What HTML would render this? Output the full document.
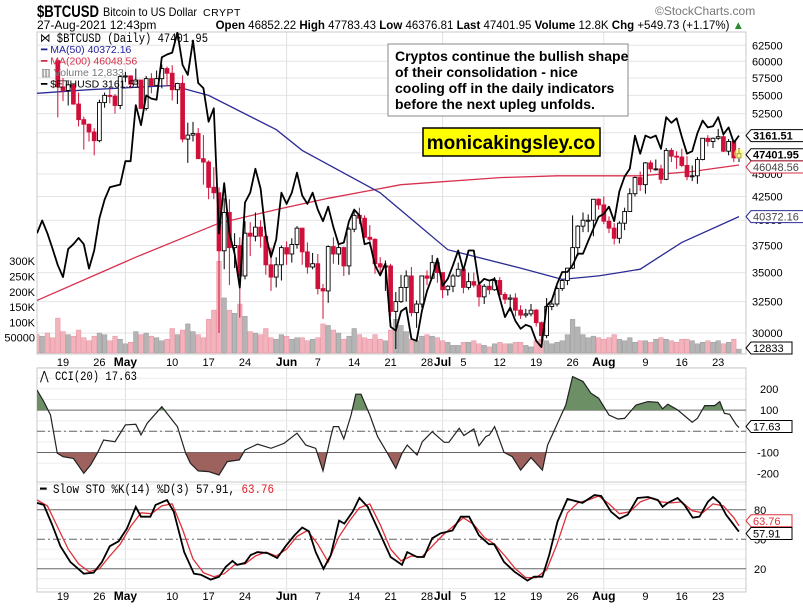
<!DOCTYPE html>
<html><head><meta charset="utf-8"><style>
html,body{margin:0;padding:0;background:#fff;}
svg{display:block;font-family:"Liberation Sans",sans-serif;}
</style></head><body>
<svg id="chart" width="803" height="612" viewBox="0 0 803 612" xmlns="http://www.w3.org/2000/svg">
<defs>
<clipPath id="clipMain"><rect x="37" y="32" width="709" height="322"/></clipPath>
<clipPath id="clipCCIup"><rect x="37" y="368" width="709" height="42.1"/></clipPath>
<clipPath id="clipCCIdn"><rect x="37" y="452.5" width="709" height="30"/></clipPath>
<clipPath id="clipCCI"><rect x="37" y="368" width="709" height="114"/></clipPath>
<clipPath id="clipSTO"><rect x="37" y="482" width="709" height="110"/></clipPath>
</defs>
<g>
<text x="37" y="17" font-size="17" font-weight="bold" textLength="62" lengthAdjust="spacingAndGlyphs">$BTCUSD</text>
<text x="103" y="16" font-size="12" textLength="94" lengthAdjust="spacingAndGlyphs">Bitcoin to US Dollar</text>
<text x="203" y="16" font-size="10.5" letter-spacing="0.5">CRYPT</text>
<text x="655" y="15" font-size="12" fill="#777">©StockCharts.com</text>
<text x="37" y="29" font-size="12">27-Aug-2021 12:43pm</text>
<text x="744" y="29" font-size="11.5" text-anchor="end"><tspan font-weight="bold">Open</tspan> 46852.22 <tspan font-weight="bold">High</tspan> 47783.43 <tspan font-weight="bold">Low</tspan> 46376.81 <tspan font-weight="bold">Last</tspan> 47401.95 <tspan font-weight="bold">Volume</tspan> 12.8K <tspan font-weight="bold">Chg</tspan> +549.73 (+1.17%) <tspan fill="#2a8a2a">▲</tspan></text>
</g>
<g id="grid"></g>
<g id="main" clip-path="url(#clipMain)"></g>
<g id="cci"></g>
<g id="sto"></g>
<g id="axes"></g>
<g font-size="10.5">
<text x="40" y="42" font-family="Liberation Mono,monospace" font-size="12.5" textLength="168" lengthAdjust="spacingAndGlyphs">⋈ $BTCUSD (Daily) 47401.95</text>
<text x="41" y="53" fill="#1f1f9a">━ MA(50) 40372.16</text>
<text x="41" y="64.5" fill="#d0304a">━ MA(200) 46048.56</text>
<text x="41" y="76" fill="#777">▥ Volume 12,833</text>
<text x="41" y="87.5" fill="#000">━ $ETHUSD 3161.51</text>
</g>
<g>
<rect x="388" y="44" width="240" height="72" fill="#fff" stroke="#888" stroke-width="1"/>
<text x="395" y="61" font-size="14" font-weight="bold"><tspan x="395" dy="0">Cryptos continue the bullish shape</tspan><tspan x="395" dy="16">of their consolidation - nice</tspan><tspan x="395" dy="16">cooling off in the daily indicators</tspan><tspan x="395" dy="16">before the next upleg unfolds.</tspan></text>
</g>
<g>
<rect x="423" y="128" width="177" height="28" fill="#ffff00" stroke="#000" stroke-width="1.5"/>
<text x="511" y="149" font-size="19" font-weight="bold" text-anchor="middle">monicakingsley.co</text>
</g>
<text x="40" y="380" font-family="Liberation Mono,monospace" font-size="12.5" textLength="97" lengthAdjust="spacingAndGlyphs">⋀ CCI(20) 17.63</text>
<text x="40" y="493" font-family="Liberation Mono,monospace" font-size="12.5" textLength="234" lengthAdjust="spacingAndGlyphs">━ Slow STO %K(14) %D(3) 57.91, <tspan fill="#e0202a">63.76</tspan></text>
</svg>
<script>
// ---- data (day index 0 = 14-Apr-2021) ----
const closes=[63.1,63.3,61.5,60.1,56.2,55.7,56.5,53.8,51.7,51.1,50.1,49.0,54.0,55.0,54.9,53.6,57.7,
57.8,56.6,57.2,53.2,57.4,56.4,57.4,58.9,58.2,55.8,56.7,49.2,49.7,49.9,46.8,46.4,43.5,42.9,37.0,40.8,37.3,37.5,34.7,38.7,38.4,39.3,38.4,35.7,34.6,35.7,37.3,
36.7,37.6,39.2,36.9,35.5,35.8,33.6,33.4,37.4,36.7,37.3,35.6,39.1,40.5,40.2,38.3,38.1,35.8,35.5,35.6,31.7,32.5,33.7,34.7,31.6,32.3,34.7,34.5,35.9,35.0,
33.5,33.8,34.7,35.3,33.7,34.2,33.9,32.9,33.8,33.5,34.3,33.1,32.7,32.8,31.8,31.4,31.5,31.8,30.8,29.8,32.1,32.3,33.6,34.3,35.4,37.3,39.4,40.0,40.0,42.2,41.6,
39.9,39.2,38.2,39.7,40.9,42.8,44.6,43.8,46.3,45.6,45.6,44.4,47.8,47.1,47.0,46.0,44.7,44.8,46.7,49.3,48.9,49.3,49.5,47.7,48.9,46.9,47.4];
const firstOpen=63.5;
const highs=[64.8,63.8,63.6,62.5,60.4,57.5,57.0,56.7,55.4,52.1,51.2,50.6,54.4,55.4,56.2,55.2,57.9,
58.4,57.9,58.9,57.2,57.8,58.2,58.6,59.5,59.2,59.4,56.8,57.9,51.3,51.4,50.6,49.7,46.6,45.8,43.5,42.3,42.2,38.7,38.3,39.9,39.8,40.8,40.0,38.8,37.3,36.4,37.5,
37.9,38.2,39.4,39.2,37.8,36.8,36.7,34.0,37.5,38.3,37.6,37.4,39.3,41.0,41.3,40.5,39.5,38.2,36.4,36.1,35.8,33.3,34.8,35.2,35.5,32.6,34.7,35.2,36.6,36.0,
35.0,33.9,34.9,35.9,35.3,35.0,35.0,33.9,34.0,34.2,34.6,34.6,33.3,33.1,33.2,32.2,31.9,32.3,31.9,30.9,32.8,32.6,33.9,34.4,35.4,40.5,39.5,40.8,40.6,42.2,42.3,
42.5,40.4,39.7,39.9,41.3,43.4,44.7,45.3,46.4,46.6,46.7,46.1,48.1,48.1,47.7,48.0,47.1,46.0,47.0,49.3,49.7,49.4,50.5,49.8,49.2,49.0,48.1];
const lows=[61.6,62.0,60.0,59.7,52.0,54.2,53.6,53.7,50.8,47.9,48.9,47.2,48.8,53.3,53.9,52.5,53.1,
56.9,56.0,56.6,53.1,52.9,55.3,56.4,56.0,56.3,54.3,53.8,48.8,46.3,48.9,46.8,43.8,42.2,42.2,30.0,35.3,33.9,35.4,31.2,34.4,36.5,37.9,37.3,34.8,33.4,33.7,34.3,
35.7,35.9,37.2,35.7,34.9,35.3,33.1,31.1,32.4,35.8,35.7,34.7,34.8,38.8,39.6,38.2,37.4,34.9,34.9,33.4,31.3,28.8,32.4,32.5,31.3,30.4,32.0,33.9,34.6,34.1,
32.8,33.0,33.3,34.6,33.2,33.5,33.7,32.1,32.3,33.1,33.4,32.8,32.3,31.7,31.3,31.1,31.2,31.3,30.5,29.3,29.6,31.8,32.1,33.4,33.9,35.3,36.5,38.8,38.8,38.4,41.1,
39.6,38.7,37.6,37.7,39.0,40.9,42.5,43.1,42.8,45.2,45.4,43.9,44.3,46.4,45.6,45.8,44.3,44.2,43.9,46.6,48.3,48.1,49.1,47.6,47.2,46.4,46.4];
const candleStart=4;
const eth=[2430,2515,2430,2330,2230,2160,2330,2360,2400,2360,2210,2320,2530,2660,2750,2760,2770,
2950,2950,3430,3250,3520,3490,3480,3900,3930,3950,4170,3820,3720,4080,3640,3590,3280,3400,2430,2780,2430,2300,2100,2640,2710,2890,2740,2420,2280,2390,2710,
2630,2710,2860,2690,2630,2710,2590,2510,2610,2470,2360,2370,2510,2590,2550,2360,2370,2230,2170,2240,1890,1870,1970,1990,1830,1820,1970,2080,2160,2270,
2110,2150,2230,2320,2200,2320,2320,2120,2150,2140,2150,2040,1940,1990,1920,1880,1900,1890,1820,1790,2000,2030,2120,2190,2190,2230,2300,2300,2380,2460,2540,
2560,2610,2510,2720,2830,2890,3160,3010,3160,3140,3160,3050,3320,3270,3310,3150,3010,3030,3180,3290,3230,3240,3320,3170,3230,3100,3160];
const volumes=[60,55,65,50,114,70,60,55,75,50,40,55,65,60,40,55,45,
30,35,70,60,65,55,50,40,45,80,60,75,95,70,60,50,110,140,300,180,140,130,160,120,70,65,60,80,50,45,60,
55,45,50,50,40,45,50,95,90,75,65,45,55,80,60,50,45,60,45,40,75,110,90,70,45,40,55,60,55,50,
40,35,25,25,35,35,40,30,25,20,30,35,30,30,35,35,25,20,40,45,40,30,35,40,60,110,85,60,50,55,50,
45,50,60,45,40,50,35,40,40,35,45,50,45,40,35,45,45,40,30,35,40,35,40,30,35,45,12.8];
const ma50Days=[0,10,26,33,46,51,66,79,93,101,108,112,116,124,135];
const ma50Vals=[55.3,55.8,56.4,55.0,50.4,47.8,42.9,37.1,35.4,34.4,34.7,35.0,35.3,37.8,40.37];
const ma200Days=[0,19,35,46,56,70,89,100,116,126,135];
const ma200Vals=[32.6,36.4,39.7,41.1,42.3,43.8,44.6,44.8,44.8,45.3,46.05];
const cciDays=[0,1.3,2.6,3.9,5,7,9,10.3,11.6,12.8,15,17,19,20,21.2,24,27,28.6,29.5,31,33,35,36.6,38.9,40,42.4,45,47.5,50,51.7,53.6,55,56.5,57,58,59,60.4,61.3,62.3,64,65.5,67.4,69,70.2,71.2,73.1,74.1,76,78.3,79.2,81.2,82.1,84,85,86.3,87,88,89.8,91.4,93,95,97.2,98.2,99.8,101.7,103,105,106.5,108,110,111.7,113,115.2,117.5,119.4,120.3,121.3,123.2,126,127,128.4,130.3,131.3,132.2,133.2,134.5,135];
const cciVals=[195,140,77,-104,-120,-128,-198,-159,-104,-41,-49,30,33,-17,38,116,22,-104,-151,-187,-190,-206,-143,-135,-88,-61,-80,-57,-9,-65,-80,-187,-25,22,22,-36,77,175,175,77,-25,-104,-175,-104,-65,-112,-49,-2,-52,-52,14,-20,11,-68,-25,-17,22,-99,-120,-183,-124,-183,-65,22,124,258,235,180,156,77,58,61,124,140,137,106,128,101,43,61,121,121,140,85,80,30,17.63];
const stoKDays=[0,1.3,2.9,4.5,6.4,9,10.9,12.5,14,15.7,17.3,19,20,21.8,22.8,25,26.3,28.3,30.2,31.5,33.4,35,36.3,37.6,38.5,40,41.1,42.4,44.3,46.2,47.8,49.5,51,52.3,53.6,55.1,56.5,58.1,59.1,60.7,62,63.6,65.5,67.4,68,70.2,71.2,73.1,74.4,76,77.6,79.9,81.5,83.1,85,86.9,87.9,89.8,91.8,94.3,95.6,97.2,98.5,100.1,102,104.9,107.2,108.5,110.4,112,113.6,115.5,117.5,119.4,120.3,121.3,123.2,124.5,126.1,127.4,129,130,131.3,132.5,133.8,134.8,135];
const stoKVals=[87,85,65,43,27,15,16,27,43,48,61,83,73,73,85,90,78,37,15,14,9,12,22,28,24,26,34,37,36,31,43,54,62,58,37,20,34,69,66,78,92,83,61,39,32,24,37,32,32,51,56,59,73,73,54,45,45,27,17,8,12,12,34,68,91,87,95,94,78,71,75,92,93,90,83,87,92,85,72,73,88,93,87,75,66,59,57.91];
const stoDDays=[0,2,4,6,8,10,12,14,16,18,20,22,24,26,28,30,32,34,36,38,40,42,44,46,48,50,52,54,56,58,60,62,64,66,68,70,72,74,76,78,80,82,84,86,88,90,92,94,96,98,100,102,104,106,108,110,112,114,116,118,120,122,124,126,128,130,132,134,135];
const stoDVals=[90,84,62,40,25,17,20,33,45,63,77,76,84,86,60,30,16,12,15,24,25,33,37,33,40,53,59,45,27,52,68,82,86,65,40,28,33,32,43,54,63,72,65,52,45,33,20,11,11,19,45,77,87,90,94,86,76,78,88,92,88,87,88,79,77,86,84,72,63.76];
const priceTicks=[62500,60000,57500,55000,52500,50000,47500,45000,42500,40000,37500,35000,32500,30000];
const volTicks=[300,250,200,150,100,50];
const volTickLabels=["300K","250K","200K","150K","100K","50000"];
const cciTicks=[200,100,-100,-200];
const stoTicks=[80,50,20];
const dateIdx=[5,12,17,26,33,40,48,54,61,68,75,78,82,89,96,103,109,117,124,131];
const dateLabels=["19","26","May","10","17","24","Jun","7","14","21","28","Jul","5","12","19","26","Aug","9","16","23"];
const monthIdx=[17,48,78,109];

// ---- scales ----
const NS="http://www.w3.org/2000/svg";
const X=i=>37+5.2*i;
const Yp=p=>333-392*Math.log(p/30);
const Ye=v=>347-372*Math.log(v/1790);
const Yv=v=>353-v*0.306;
const Yc=c=>431.3-c*0.212;
const Ys=s=>539.3-(s-50)*0.983;
function mk(parent,tag,attrs){const e=document.createElementNS(NS,tag);for(const k in attrs)e.setAttribute(k,attrs[k]);document.getElementById(parent).appendChild(e);return e;}
function pts(days,vals,fx,fy){return days.map((d,j)=>fx(d).toFixed(1)+","+fy(vals[j]).toFixed(1)).join(" ");}

// ---- grid & panels ----
let e;
for(const t of priceTicks){e=mk("grid","line",{x1:37,x2:746,y1:Yp(t/1000),y2:Yp(t/1000),stroke:"#e4e4e4","stroke-width":1});

}
for(const m of monthIdx){for(const [a,b] of [[32,354],[368,482],[482,592]]){e=mk("grid","line",{x1:X(m),x2:X(m),y1:a,y2:b,stroke:"#e0e0e0","stroke-width":1});

}}
for(const c of [300,250,200,150,50,0,-50,-150,-250]){e=mk("grid","line",{x1:37,x2:746,y1:Yc(c),y2:Yc(c),stroke:"#ececec"});

}
for(let s=0;s<=100;s+=10){if(s==80||s==50||s==20)continue;e=mk("grid","line",{x1:37,x2:746,y1:Ys(s),y2:Ys(s),stroke:"#ececec"});

}
for(const [a,b,n] of [[32,354,'price-panel'],[368,482,'cci-panel'],[482,592,'sto-panel']]){e=mk("grid","rect",{x:37,y:a,width:709,height:b-a,fill:"none",stroke:"#c8c8c8"});

}

// ---- volume ----
for(let i=0;i<volumes.length;i++){const o=i==0?firstOpen:closes[i-1];const up=closes[i]>=o;
e=mk("main","rect",{x:X(i)-2.3,y:Yv(volumes[i]),width:4.6,height:353-Yv(volumes[i]),fill:up?"#b4b4b4":"#f2b3bd",stroke:up?"#999":"#e590a0","stroke-width":0.5});

}
// ---- MAs ----
e=mk("main","polyline",{points:pts(ma200Days,ma200Vals,X,Yp),fill:"none",stroke:"#d8304e","stroke-width":1.3});


e=mk("main","polyline",{points:pts(ma50Days,ma50Vals,X,Yp),fill:"none",stroke:"#2b2b96","stroke-width":1.3});


// ---- candles ----
for(let i=candleStart;i<closes.length;i++){const o=i==0?firstOpen:closes[i-1];const c=closes[i];const up=c>=o;const col=up?"#000":"#d0103a";
e=mk("main","line",{x1:X(i),x2:X(i),y1:Yp(highs[i]),y2:Yp(lows[i]),stroke:col,"stroke-width":1});


const y1=Yp(Math.max(o,c)),y2=Yp(Math.min(o,c));
e=mk("main","rect",{x:X(i)-1.9,y:y1,width:3.8,height:Math.max(1,y2-y1),fill:up?"#fff":"#d0103a",stroke:col,"stroke-width":0.9});

}
// ---- ETH ----
e=mk("main","polyline",{points:eth.map((v,i)=>X(i).toFixed(1)+","+Ye(v).toFixed(1)).join(" "),fill:"none",stroke:"#000","stroke-width":1.8,"stroke-linejoin":"round"});



// ---- CCI ----
for(const [c,d] of [[100,""],[-100,""],[0,"8,3,2,3"]]){e=mk("cci","line",{x1:37,x2:746,y1:Yc(c),y2:Yc(c),stroke:"#666","stroke-width":1,"stroke-dasharray":d});

}
const cp=pts(cciDays,cciVals,X,Yc);
const last=cciDays[cciDays.length-1];
e=mk("cci","polygon",{points:X(0)+","+Yc(100)+" "+cp+" "+X(last)+","+Yc(100),fill:"#6c8f66","clip-path":"url(#clipCCIup)"});


e=mk("cci","polygon",{points:X(0)+","+Yc(-100)+" "+cp+" "+X(last)+","+Yc(-100),fill:"#9e625e","clip-path":"url(#clipCCIdn)"});


e=mk("cci","polyline",{points:cp,fill:"none",stroke:"#222","stroke-width":1.2,"clip-path":"url(#clipCCI)"});



// ---- STO ----
for(const [s,d] of [[80,""],[20,""],[50,"8,3,2,3"]]){e=mk("sto","line",{x1:37,x2:746,y1:Ys(s),y2:Ys(s),stroke:"#666","stroke-width":1,"stroke-dasharray":d});

}
e=mk("sto","polyline",{points:pts(stoDDays,stoDVals,X,Ys),fill:"none",stroke:"#e0303a","stroke-width":1.3,"clip-path":"url(#clipSTO)"});


e=mk("sto","polyline",{points:pts(stoKDays,stoKVals,X,Ys),fill:"none",stroke:"#000","stroke-width":1.8,"clip-path":"url(#clipSTO)"});



// ---- axes labels ----
function txt(x,y,s,attrs,name){const t=mk("axes","text",Object.assign({x:x,y:y,"font-size":11},attrs||{}));t.textContent=s;

return t;}
for(const t of priceTicks)txt(752,Yp(t/1000)+4,String(t),{},'price-tick-label');
volTicks.forEach((v,j)=>txt(35,Yv(v)+4,volTickLabels[j],{"text-anchor":"end"},'volume-tick-label'));
for(const c of cciTicks)txt(c<0?757:760,Yc(c)+4,String(c),{},'cci-tick-label');
for(const s of stoTicks)txt(754,Ys(s)+4,String(s),{},'sto-tick-label');
dateIdx.forEach((d,j)=>{const b=isNaN(+dateLabels[j]);
txt(X(d),366,dateLabels[j],{"text-anchor":"middle","font-weight":b?"bold":"normal","font-size":b?12:11},'date-label');
txt(X(d),600,dateLabels[j],{"text-anchor":"middle","font-weight":b?"bold":"normal","font-size":b?12:11},'date-label-bottom');});
// value tags
function tag(y,s,stroke,fill,bold,name){const w=s.length*6.6+8;
const p=mk("axes","path",{d:`M746,${y} l5,-6 h${w} v12 h-${w} z`,fill:"#fff",stroke:stroke,"stroke-width":1});


txt(753,y+4,s,{fill:fill,"font-weight":bold?"bold":"normal"},name);}
tag(Ye(eth[eth.length-1]),"3161.51","#000","#000",true,'eth-value-tag');
tag(Yp(closes[closes.length-1])+1,"47401.95","#000","#000",true,'price-value-tag');
tag(Yp(ma200Vals[ma200Vals.length-1])+2,"46048.56","#d0304a","#444",false,'ma200-value-tag');
tag(Yp(ma50Vals[ma50Vals.length-1]),"40372.16","#2b2b96","#444",false,'ma50-value-tag');
tag(Yv(0)-5,"12833","#000","#000",false,'volume-value-tag');
tag(Yc(cciVals[cciVals.length-1])-1,"17.63","#000","#000",false,'cci-value-tag');
tag(Ys(stoDVals[stoDVals.length-1])-5,"63.76","#e0303a","#e0303a",false,'sto-d-value-tag');
tag(Ys(stoKVals[stoKVals.length-1])+2,"57.91","#000","#000",false,'sto-k-value-tag');
// last candle highlight
e=mk("main","circle",{cx:X(135),cy:Yp(47.4),r:5,fill:"#ffff60","fill-opacity":0.6});


</script>
</body></html>
